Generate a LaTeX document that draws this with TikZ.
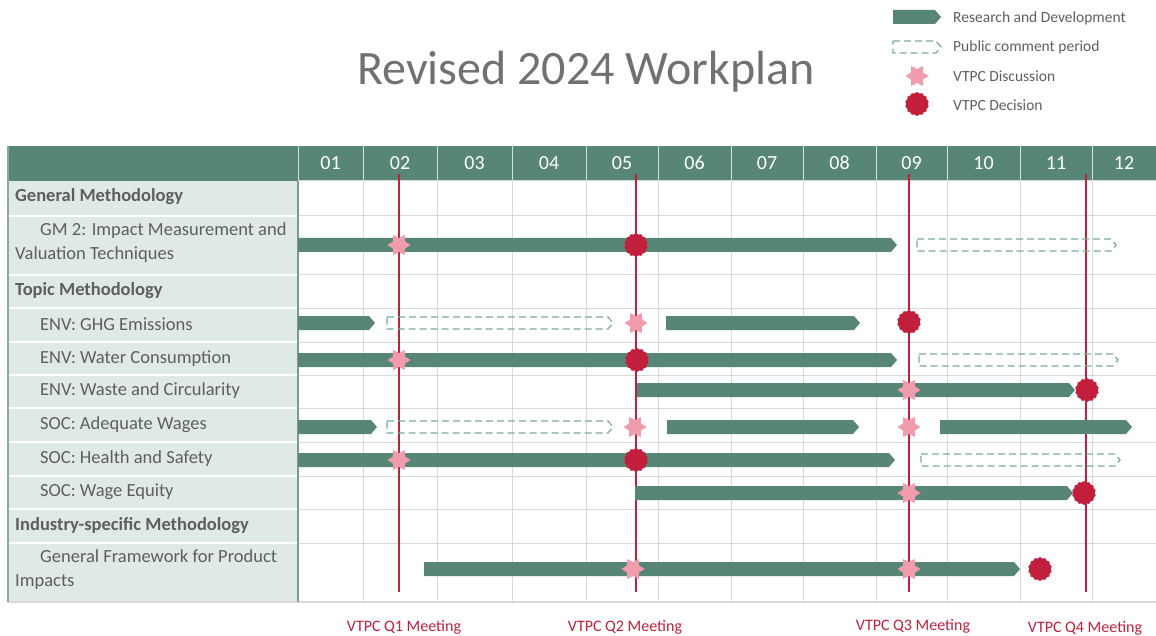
\documentclass[tikz,border=0pt]{standalone}
\usepackage{fontspec}
\setmainfont{Carlito}
\usetikzlibrary{shapes.geometric}
\usetikzlibrary{arrows.meta}

\definecolor{wpgreen}{HTML}{588676}
\definecolor{wppale}{HTML}{DFEAE7}
\definecolor{wpdash}{HTML}{7AAA99}
\definecolor{wpgrid}{HTML}{D9D9D9}
\definecolor{wptext}{HTML}{5E5E5E}
\definecolor{wptitle}{HTML}{717171}
\definecolor{wpred}{HTML}{C21F3D}
\definecolor{wppink}{HTML}{F09CAC}

\tikzset{
  hdr/.style={text=white,font=\fontsize{20}{22}\selectfont},
  rowlbl/.style={anchor=west,text=wptext,align=left,inner sep=0,font=\fontsize{18.5}{24}\selectfont},
  catlbl/.style={rowlbl,font=\fontsize{18.5}{24}\selectfont\bfseries},
  keylbl/.style={anchor=west,text=wptext,inner sep=0,font=\fontsize{15.5}{18}\selectfont},
  meetlbl/.style={text=wpred,font=\fontsize{16}{18}\selectfont},
  meet/.style={wpred,line width=1.8pt},
  disc/.style={star,star points=6,star point ratio=1.65,shape border rotate=90,minimum size=23,inner sep=0,fill=wppink},
  decide/.style={star,star points=14,star point ratio=1.12,minimum size=24,inner sep=0,fill=wpred},
}

% research bar: {y}{from}{to}
\newcommand{\rdbar}[3]{\fill[wpgreen] (#2,#1-7) -- (#3-6,#1-7) -- (#3,#1) -- (#3-6,#1+7) -- (#2,#1+7) -- cycle;}
% comment period: {y}{from}{to}
\newcommand{\pcbar}[3]{\draw[wpdash,line width=1.2pt,dash pattern=on 7pt off 4pt] (#2,#1-6) -- (#3-5,#1-6) -- (#3,#1) -- (#3-5,#1+6) -- (#2,#1+6) -- cycle;}

\begin{document}
\begin{tikzpicture}[x=1pt,y=-1pt]
  \useasboundingbox (0,0) rectangle (1156,636);

  \node[text=wptitle,font=\fontsize{48}{52}\selectfont] (title) at (586,72) {Revised 2024 Workplan};

  % key
  \rdbar{17}{893}{941}
  \pcbar{47}{893}{941}
  \node[disc] (kdisc) at (917,76) {};
  \node[decide] (kdec) at (917,104) {};
  \node[keylbl] (k1) at (953,18) {Research and Development};
  \node[keylbl] (k2) at (953,47) {Public comment period};
  \node[keylbl] (k3) at (953,76) {VTPC Discussion};
  \node[keylbl] (k4) at (953,105) {VTPC Decision};

  % table frame
  \fill[wpgreen] (8,146) rectangle (1156,181);
  \fill[wppale] (8,181) rectangle (298,602);
  \foreach \y in {216,275,308,342,375,408,442,476,509,543} {
    \draw[white,line width=1.2pt] (8,\y) -- (298,\y);
    \draw[wpgrid,line width=1pt] (298,\y) -- (1156,\y);
  }
  \draw[wpgrid,line width=1pt] (298,181) -- (1156,181);
  \foreach \a/\b/\m in {298/363/01,363/437/02,437/512/03,512/586/04,586/658/05,658/731/06,
                        731/803/07,803/876/08,876/947/09,947/1020/10,1020/1092/11,1092/1156/12} {
    \draw[white!75!wpgreen,line width=1pt] (\a,146) -- (\a,181);
    \draw[wpgrid,line width=1pt] (\a,181) -- (\a,602);
    \node[hdr] (m\m) at ({(\a+\b)/2},163) {\m};
  }
  \draw[wpgrid,line width=1.2pt] (8,602) -- (1156,602);
  \draw[wpgreen!70,line width=1.2pt] (8,146) -- (8,602);
  \draw[wpgreen!80,line width=1.4pt] (298,181) -- (298,602);

  % row labels
  \node[catlbl] (cgm) at (15,197) {General Methodology};
  \node[rowlbl] (gm2) at (15,243) {\hspace*{25pt}GM 2: Impact Measurement and\\Valuation Techniques};
  \node[catlbl] (ctm) at (15,291) {Topic Methodology};
  \node[rowlbl] (ghg) at (40,324) {ENV: GHG Emissions};
  \node[rowlbl] (wat) at (40,359) {ENV: Water Consumption};
  \node[rowlbl] (was) at (40,391) {ENV: Waste and Circularity};
  \node[rowlbl] (adw) at (40,425) {SOC: Adequate Wages};
  \node[rowlbl] (hns) at (40,459) {SOC: Health and Safety};
  \node[rowlbl] (weq) at (40,492) {SOC: Wage Equity};
  \node[catlbl] (cis) at (15,526) {Industry-specific Methodology};
  \node[rowlbl] (gfp) at (15,570) {\hspace*{25pt}General Framework for Product\\Impacts};

  % quarterly meetings
  \foreach \x in {399,636,909,1086} {
    \draw[meet] (\x,174) -- (\x,592);
  }
  \node[meetlbl] (q1) at (404,627) {VTPC Q1 Meeting};
  \node[meetlbl] (q2) at (625,627) {VTPC Q2 Meeting};
  \node[meetlbl] (q3) at (913,626) {VTPC Q3 Meeting};
  \node[meetlbl] (q4) at (1085,628) {VTPC Q4 Meeting};

  % research and development
  \foreach \y/\a/\b in {245/298/897,323/298/375,323/666/860,360/298/897,390/637/1075,
                        427/298/377,427/667/859,427/940/1132,460/298/895,493/635/1073,569/424/1020} {
    \rdbar{\y}{\a}{\b}
  }

  % public comment
  \foreach \y/\a/\b in {245/917/1116,323/387/613,360/919/1118,427/387/613,460/921/1120} {
    \pcbar{\y}{\a}{\b}
  }

  % discussions and decisions
  \foreach \x/\y [count=\i] in {399/245,636/323,399/360,909/390,635/427,909/427,399/460,909/493,633/569,909/569} {
    \node[disc] (d\i) at (\x,\y) {};
  }
  \foreach \x/\y [count=\i] in {636/245,909/322,637/360,1087/390,636/460,1084/493,1040/569} {
    \node[decide] (v\i) at (\x,\y) {};
  }
\end{tikzpicture}
\end{document}
